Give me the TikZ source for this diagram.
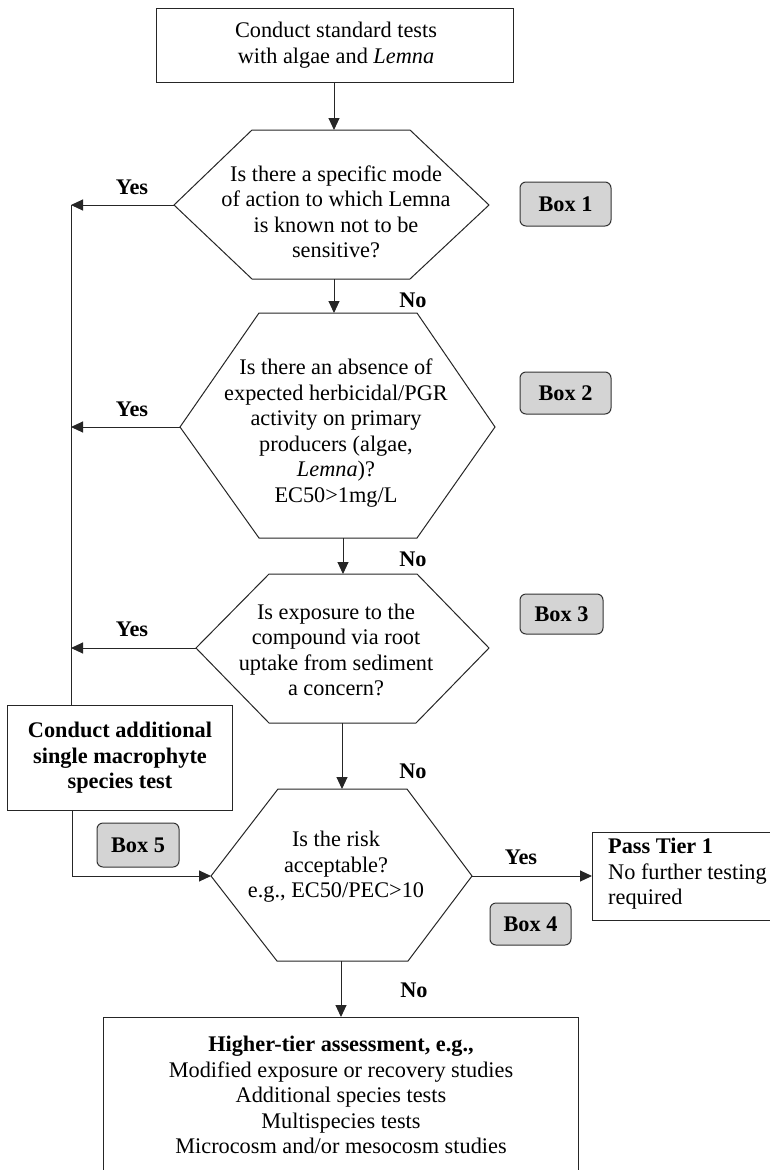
\documentclass[tikz,border=0pt]{standalone}
\usepackage{fontspec}
\setmainfont{Liberation Serif}
\usetikzlibrary{arrows.meta}
\begin{document}
\begin{tikzpicture}[x=1pt,y=-1pt,
  lw/.style={line width=1pt, draw=black!85},
  arr/.style={lw,-{Triangle[length=12pt,width=11pt]}},
  plain/.style={lw},
  txt/.style={font=\fontsize{22.3}{25.5}\selectfont, align=center, inner sep=0pt},
  lbl/.style={font=\fontsize{22.3}{25.5}\selectfont\bfseries, inner sep=0pt},
  boxlbl/.style={draw=black!80, line width=1pt, fill=black!17, rounded corners=6pt,
     font=\fontsize{22.3}{25.5}\selectfont\bfseries, inner sep=0pt},
  hexline/.style={line width=1pt, draw=black!85}
]
\useasboundingbox (0,0) rectangle (769,1170);
\fill[white] (0,0) rectangle (769,1170);

% top box
\draw[lw] (156,8) rectangle (513,82);
\node[txt] (top) at (336,45) {Conduct standard tests\\with algae and \textit{Lemna}};
\coordinate (topb) at (334,82);

% hexagon 1
\coordinate (h1t) at (334,130);
\coordinate (h1b) at (334,279);
\coordinate (h1l) at (174,205);
\coordinate (h1r) at (489,205);
\draw[hexline] (252,130) -- (410,130) -- (h1r) -- (410,279) -- (252,279) -- (h1l) -- cycle;
\node[txt] (h1) at (336,212) {Is there a specific mode\\of action to which Lemna\\is known not to be\\sensitive?};

% hexagon 2
\coordinate (h2t) at (334,313);
\coordinate (h2b) at (343,538);
\coordinate (h2l) at (180,427);
\coordinate (h2r) at (495,427);
\draw[hexline] (259,313) -- (417,313) -- (h2r) -- (417,538) -- (259,538) -- (h2l) -- cycle;
\node[txt] (h2) at (336,433) {Is there an absence of\\expected herbicidal/PGR\\activity on primary\\producers (algae,\\\textit{Lemna})?\\EC50>1mg/L};

% hexagon 3
\coordinate (h3t) at (343,574);
\coordinate (h3b) at (342,723);
\coordinate (h3l) at (196,648);
\coordinate (h3r) at (489,648);
\draw[hexline] (269,574) -- (417,574) -- (h3r) -- (416,723) -- (269,723) -- (h3l) -- cycle;
\node[txt] (h3) at (336,650) {Is exposure to the\\compound via root\\uptake from sediment\\a concern?};

% hexagon 4
\coordinate (h4t) at (342,789);
\coordinate (h4b) at (341,961);
\coordinate (h4l) at (211,876);
\coordinate (h4r) at (472,876);
\draw[hexline] (278,789) -- (407,789) -- (h4r) -- (408,961) -- (277,961) -- (h4l) -- cycle;
\node[txt] (h4) at (336,867) {Is the risk\\acceptable?\\e.g., EC50/PEC>10};

% side box
\draw[lw] (7,705) rectangle (232,810);
\node[txt, font=\fontsize{22.3}{25.5}\selectfont\bfseries] (side) at (120,758) {Conduct additional\\single macrophyte\\species test};
\coordinate (sidet) at (71,705);
\coordinate (sideb) at (72,810);

% left line coordinates
\coordinate (l1) at (71,205);
\coordinate (l2) at (71,427);
\coordinate (l3) at (71,648);
\coordinate (l4) at (72,876);

% pass box
\draw[lw] (592,832) rectangle (780,920);
\node[font=\fontsize{22.3}{25.5}\selectfont, align=left, anchor=north west, inner sep=0pt] (pass) at (608,838) {\textbf{Pass Tier 1}\\No further testing\\required};
\coordinate (passl) at (592,876);

% bottom box
\draw[lw] (103,1017) rectangle (578,1180);
\node[txt] (bottom) at (341,1095) {\textbf{Higher-tier assessment, e.g.,}\\Modified exposure or recovery studies\\Additional species tests\\Multispecies tests\\Microcosm and/or mesocosm studies};
\coordinate (bott) at (341,1017);

% connectors
\draw[arr] (topb) -- (h1t);
\draw[arr] (h1b) -- (h2t);
\draw[arr] (h2b) -- (h3t);
\draw[arr] (h3b) -- (h4t);
\draw[arr] (h4b) -- (bott);
\draw[arr] (h1l) -- (l1);
\draw[arr] (h2l) -- (l2);
\draw[arr] (h3l) -- (l3);
\draw[plain] (l1) -- (sidet);
\draw[arr] (sideb) -- (l4) -- (h4l);
\draw[arr] (h4r) -- (passl);

% labels
\node[lbl] (y1) at (132,187) {Yes};
\node[lbl] (y2) at (132,409) {Yes};
\node[lbl] (y3) at (132,629) {Yes};
\node[lbl] (y4) at (521,857) {Yes};
\node[lbl] (n1) at (413,300) {No};
\node[lbl] (n2) at (413,559) {No};
\node[lbl] (n3) at (413,771) {No};
\node[lbl] (n4) at (414,990) {No};

% box labels
\node[boxlbl, minimum width=91pt, minimum height=44pt] (b1) at (565.5,204) {Box 1};
\node[boxlbl, minimum width=91pt, minimum height=42pt] (b2) at (565.5,393) {Box 2};
\node[boxlbl, minimum width=83pt, minimum height=40pt] (b3) at (561.5,614) {Box 3};
\node[boxlbl, minimum width=81pt, minimum height=42pt] (b4) at (530.5,924) {Box 4};
\node[boxlbl, minimum width=82pt, minimum height=44pt] (b5) at (138,845) {Box 5};
\end{tikzpicture}
\end{document}
